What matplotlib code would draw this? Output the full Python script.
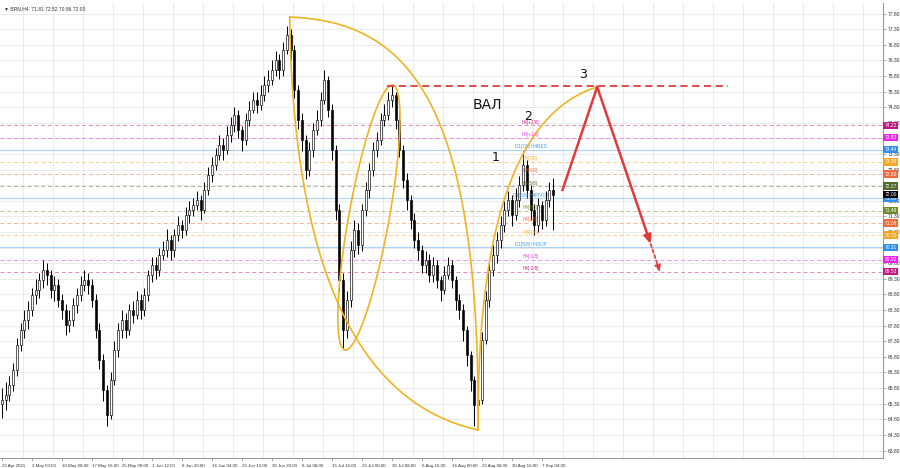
import matplotlib
matplotlib.use("Agg")
import matplotlib.pyplot as plt
import numpy as np
from matplotlib.patches import Rectangle

# ---------------- data ----------------
title = "\u25bc BRN,H4  71.81 72.52 70.86 72.00"

# candles (each candle = 4 H4 bars)
close = [65.42, 65.58, 65.90, 66.38, 67.18, 67.66, 67.98, 68.30, 68.78, 68.94,
         69.26, 69.58, 69.42, 68.94, 69.10, 68.62, 68.30, 67.82, 67.98, 68.46,
         68.78, 69.10, 69.26, 69.10, 68.62, 67.66, 66.70, 65.74, 64.94, 66.06,
         67.02, 67.66, 67.98, 67.66, 68.30, 68.14, 68.62, 68.30, 68.78, 69.42,
         69.74, 69.58, 70.06, 70.22, 70.54, 70.22, 70.70, 71.02, 70.86, 71.34,
         71.50, 71.66, 71.83, 71.50, 72.15, 72.63, 72.95, 73.27, 73.59, 73.43,
         73.91, 74.23, 74.55, 74.07, 73.75, 74.39, 74.71, 75.03, 74.87, 75.19,
         75.51, 75.67, 75.99, 76.31, 75.99, 76.64, 77.12, 76.64, 75.35, 74.39,
         73.75, 72.79, 73.43, 74.07, 74.39, 75.03, 75.67, 74.71, 73.43, 71.50,
         69.26, 67.66, 68.62, 70.22, 70.86, 70.38, 71.50, 72.15, 72.79, 73.43,
         73.75, 74.39, 74.55, 75.03, 75.19, 74.39, 73.43, 72.47, 71.83, 71.18,
         70.54, 70.22, 69.74, 69.90, 69.42, 69.74, 69.26, 68.94, 69.42, 69.74,
         69.26, 68.62, 68.30, 67.66, 66.86, 66.06, 65.26, 65.42, 67.34, 68.62,
         69.58, 70.06, 70.54, 71.02, 71.50, 71.83, 71.34, 71.83, 72.31, 72.95,
         72.15, 71.50, 71.02, 71.66, 71.18, 71.83, 72.15, 72.00]
open_ = [65.30] + close[:-1]
high = [65.80, 66.00, 66.20, 66.60, 67.40, 67.90, 68.30, 68.60, 69.00, 69.30,
        69.50, 69.90, 69.80, 69.60, 69.40, 69.30, 68.80, 68.50, 68.30, 68.70,
        69.00, 69.40, 69.60, 69.50, 69.30, 68.80, 67.90, 66.90, 65.90, 66.30,
        67.30, 67.90, 68.30, 68.20, 68.50, 68.60, 68.90, 68.80, 69.00, 69.60,
        70.00, 70.00, 70.30, 70.50, 70.90, 70.70, 70.90, 71.30, 71.20, 71.60,
        71.80, 71.90, 72.10, 72.00, 72.40, 72.90, 73.20, 73.50, 73.90, 73.80,
        74.20, 74.50, 74.80, 74.70, 74.20, 74.60, 75.00, 75.30, 75.30, 75.50,
        75.80, 76.00, 76.30, 76.60, 76.50, 76.90, 77.40, 77.30, 76.80, 75.50,
        74.60, 73.90, 73.70, 74.30, 74.70, 75.30, 76.00, 75.80, 74.90, 73.60,
        71.70, 69.50, 68.90, 70.50, 71.20, 71.10, 71.70, 72.40, 73.00, 73.70,
        74.00, 74.60, 74.90, 75.30, 75.50, 75.30, 74.60, 73.60, 72.70, 72.00,
        71.40, 70.80, 70.40, 70.20, 70.10, 70.00, 69.90, 69.40, 69.70, 70.00,
        69.90, 69.40, 68.80, 68.50, 67.80, 67.00, 66.20, 65.80, 67.60, 68.90,
        69.90, 70.40, 70.80, 71.30, 71.80, 72.10, 72.00, 72.20, 72.60, 73.40,
        73.10, 72.30, 71.70, 71.90, 71.80, 72.10, 72.40, 72.52]
low = [64.85, 65.10, 65.40, 65.70, 66.20, 67.00, 67.40, 67.70, 68.10, 68.50,
       68.70, 69.00, 69.10, 68.70, 68.60, 68.40, 68.00, 67.50, 67.60, 67.80,
       68.20, 68.60, 68.90, 68.80, 68.40, 67.40, 66.40, 65.40, 64.60, 64.80,
       65.90, 66.80, 67.40, 67.40, 67.50, 67.90, 68.00, 68.00, 68.10, 68.60,
       69.20, 69.30, 69.40, 69.90, 70.00, 69.90, 70.00, 70.50, 70.60, 70.70,
       71.10, 71.30, 71.50, 71.20, 71.40, 72.00, 72.40, 72.80, 73.10, 73.10,
       73.30, 73.70, 74.00, 73.80, 73.40, 73.60, 74.20, 74.60, 74.60, 74.70,
       75.00, 75.30, 75.50, 75.80, 75.70, 75.80, 76.50, 76.30, 75.10, 74.10,
       73.40, 72.50, 72.60, 73.20, 73.90, 74.20, 74.90, 74.50, 73.10, 71.20,
       68.90, 67.10, 67.40, 68.40, 70.00, 70.10, 70.20, 71.30, 71.90, 72.60,
       73.20, 73.60, 74.20, 74.40, 74.80, 74.10, 73.20, 72.20, 71.50, 70.90,
       70.30, 69.90, 69.50, 69.50, 69.20, 69.20, 69.00, 68.60, 68.80, 69.30,
       69.00, 68.30, 68.00, 67.30, 66.50, 65.70, 64.60, 64.45, 65.30, 67.20,
       68.40, 69.40, 69.80, 70.30, 70.80, 71.30, 71.00, 71.20, 71.60, 72.10,
       71.90, 71.20, 70.70, 70.80, 70.90, 71.00, 71.60, 70.86]
bars_per_candle = 4

date_labels = ["23 Apr 2021", "3 May 00:00", "10 May 08:00", "17 May 16:00",
               "25 May 00:00", "1 Jun 12:00", "8 Jun 20:00", "16 Jun 04:00",
               "23 Jun 12:00", "30 Jun 20:00", "8 Jul 08:00", "15 Jul 16:00",
               "23 Jul 00:00", "30 Jul 08:00", "6 Aug 16:00", "16 Aug 00:00",
               "23 Aug 08:00", "30 Aug 16:00", "7 Sep 04:00"]
bars_per_label = 32

price_ticks = [63.80 + 0.5 * i for i in range(29)]

levels = [74.22, 73.83, 73.44, 73.05, 72.66, 72.27, 71.88, 71.49, 71.09,
          70.70, 70.31, 69.92, 69.53]
level_names = ["H4[+2/8]", "H4[+1/8]", "D1[7/8] H4RES", "H4[7/8]", "H4[6/8]",
               "H4[5/8]", "D1[6/8] H4PIVOT", "H4[3/8]", "H4[2/8]", "H4[1/8]",
               "D1[5/8] H4SUP", "H4[-1/8]", "H4[-2/8]"]
level_colors = ["#c0167e", "#ee22ee", "#2f8ff0", "#f5a623", "#f26a3a",
                "#4f6a2a", "#2f8ff0", "#6b8e23", "#f26a3a", "#f5a623",
                "#2f8ff0", "#ee22ee", "#c0167e"]
level_solid = [False, False, True, False, False, False, True, False, False,
               False, True, False, False]
last_price = 72.00

# annotation anchors (bar index, price)
peak1 = (309, 77.69)
low1 = (510, 64.46)
big_left_ctrl = [(312, 70.87), (363, 65.42)]
big_right_ctrl = [(440, 77.55), (512, 74.80)]
peak2 = (419, 75.51)
low2 = (368, 67.02)
point3 = (637, 75.45)
arc_ctrl = (508, 74.25)
res_level = 75.49
res_span = (413, 777)
arrow_start = (600, 72.15)
arrow_end = (694, 70.42)
arrow_end2 = (704, 69.52)
texts = [("\u0412\u0410\u041b", 520, 74.87, 10), ("1", 529, 73.18, 9),
         ("2", 563, 74.50, 9), ("3", 622, 75.85, 9)]

# ---------------- figure ----------------
FONT = ["Liberation Sans", "DejaVu Sans"]
plt.rcParams["font.family"] = FONT
W, H = 900, 468
fig = plt.figure(figsize=(W / 100, H / 100), dpi=100)
ax = fig.add_axes([0.0, 10 / H, 883 / W, 455 / H])
ax.set_xlim(0, 883 / 0.9375)
ax.set_ylim(63.56, 78.14)
ax.set_facecolor("white")

# grid
for i in range(30):
    ax.axvline(24.5 + bars_per_label * i, color="#e8e8e8", lw=0.6, zorder=0)
for p in price_ticks:
    ax.axhline(p, color="#e8e8e8", lw=0.6, zorder=0)

# levels
for lv, nm, col, solid in zip(levels, level_names, level_colors, level_solid):
    if solid:
        ax.axhline(lv, color=col, lw=0.8, alpha=0.4, zorder=1)
    else:
        ax.axhline(lv, color=col, lw=0.7, alpha=0.5, ls=(0, (4, 3)), zorder=1)
    ax.text(566, lv + 0.02, nm, color=col, fontsize=3.3, ha="center",
            va="bottom", zorder=5, alpha=0.9)
    ax.annotate(f"{lv:.2f}", xy=(1.0, lv), xycoords=("axes fraction", "data"),
                xytext=(1.2, 0), textcoords="offset points", ha="left",
                va="center", fontsize=3.5, color="white", zorder=10,
                annotation_clip=False,
                bbox=dict(boxstyle="square,pad=0.25", fc=col, ec="none"))
ax.annotate(f"{last_price:.2f}", xy=(1.0, last_price),
            xycoords=("axes fraction", "data"), xytext=(1.2, 0),
            textcoords="offset points", ha="left", va="center", fontsize=3.5,
            color="white", zorder=11, annotation_clip=False,
            bbox=dict(boxstyle="square,pad=0.25", fc="black", ec="none"))

# candles
n = len(close)
xs = np.arange(n) * bars_per_candle + bars_per_candle / 2
ax.vlines(xs, low, high, color="black", lw=0.7, zorder=3)
for x, o, c in zip(xs, open_, close):
    bottom = min(o, c)
    h = max(abs(c - o), 0.03)
    fc = "white" if c >= o else "black"
    ax.add_patch(Rectangle((x - 1.1, bottom), 2.2, h, fc=fc, ec="black",
                           lw=0.45, zorder=4))

# ticks / spines
ax.yaxis.tick_right()
ax.set_yticks(price_ticks)
shown = [f"{p:.2f}" if min(abs(p - l) for l in levels + [last_price]) > 0.05
         else "" for p in price_ticks]
ax.set_yticklabels(shown, fontsize=3.6, color="#333333")
ax.tick_params(axis="y", length=2, width=0.5, color="#888888", pad=1.5)
xt = [2 + bars_per_label * i for i in range(len(date_labels))]
ax.set_xticks(xt)
ax.set_xticklabels(date_labels, fontsize=3.2, color="#333333", ha="left")
ax.tick_params(axis="x", length=2, width=0.5, color="#888888", pad=2)
for s in ["top", "left"]:
    ax.spines[s].set_visible(False)
for s in ["right", "bottom"]:
    ax.spines[s].set_color("#9a9a9a")
    ax.spines[s].set_linewidth(0.8)

ax.text(0.004, 0.993, title, transform=ax.transAxes, fontsize=3.6,
        color="#333333", ha="left", va="top")

# ---------------- annotations ----------------
YEL = "#f0b323"
RED = "#e23a3a"


def to_px(p):
    return ax.transData.transform(p)


def to_data(pts):
    return ax.transData.inverted().transform(pts)


def bezier(points, lw=1.2):
    P = [to_px(p) for p in points]
    t = np.linspace(0, 1, 300)[:, None]
    if len(P) == 3:
        B = (1 - t) ** 2 * P[0] + 2 * t * (1 - t) * P[1] + t ** 2 * P[2]
    else:
        B = ((1 - t) ** 3 * P[0] + 3 * (1 - t) ** 2 * t * P[1]
             + 3 * (1 - t) * t ** 2 * P[2] + t ** 3 * P[3])
    d = to_data(B)
    ax.plot(d[:, 0], d[:, 1], color=YEL, lw=lw, zorder=6)


def ellipse(P1, P2, ratio):
    a1, a2 = to_px(P1), to_px(P2)
    c = (a1 + a2) / 2
    p = (a2 - a1) / 2
    L = np.hypot(*p)
    q = np.array([-p[1], p[0]]) / L * L * ratio
    t = np.linspace(0, 2 * np.pi, 500)
    pts = c + np.outer(np.cos(t), p) + np.outer(np.sin(t), q)
    d = to_data(pts)
    ax.plot(d[:, 0], d[:, 1], color=YEL, lw=1.2, zorder=6)


bezier([peak1, big_left_ctrl[0], big_left_ctrl[1], low1])
bezier([peak1, big_right_ctrl[0], big_right_ctrl[1], low1])
ellipse(peak2, low2, 0.15)
bezier([low1, arc_ctrl, point3])

# resistance dashed line
ax.plot(res_span, [res_level, res_level], color=RED, lw=1.3,
        ls=(0, (4, 2.5)), zorder=7)

# red arrows
ax.plot([arrow_start[0], point3[0]], [arrow_start[1], point3[1]], color=RED,
        lw=1.8, zorder=7)
ax.annotate("", xy=arrow_end, xytext=point3,
            arrowprops=dict(arrowstyle="-|>,head_length=0.5,head_width=0.22",
                            color=RED, lw=1.8, shrinkA=0, shrinkB=0), zorder=7)
ax.annotate("", xy=arrow_end2, xytext=arrow_end,
            arrowprops=dict(arrowstyle="-|>,head_length=0.4,head_width=0.18",
                            color=RED, lw=1.2, ls=(0, (2, 1.5)), shrinkA=0,
                            shrinkB=0), zorder=7)

for s, x, y, fs in texts:
    ax.text(x, y, s, fontsize=fs, color="#111111", ha="center", va="center",
            zorder=8, family=["DejaVu Sans"])

fig.savefig("out.png", dpi=100)
